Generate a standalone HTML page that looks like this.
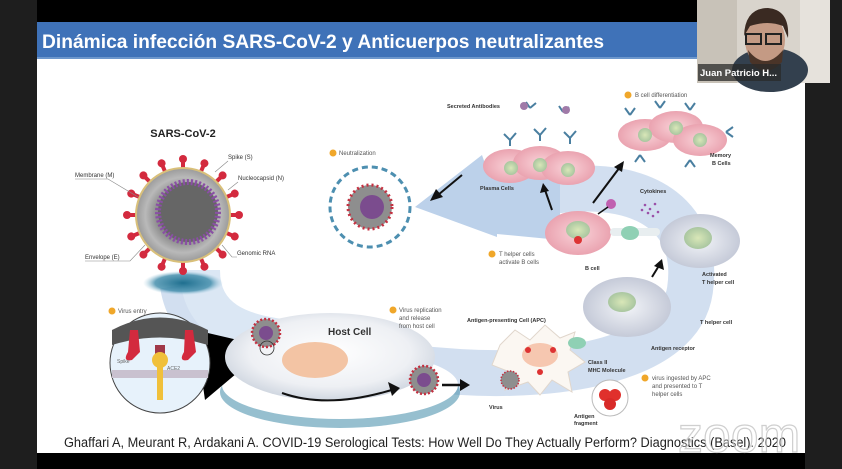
<!DOCTYPE html>
<html><head><meta charset="utf-8"><style>
html,body{margin:0;padding:0;background:#000;}
svg{display:block;font-family:"Liberation Sans",sans-serif;}
</style></head><body>
<svg width="842" height="469" viewBox="0 0 842 469" xmlns="http://www.w3.org/2000/svg">
<defs>
<radialGradient id="vir" cx="50%" cy="50%" r="50%"><stop offset="0" stop-color="#555"/><stop offset=".55" stop-color="#8a8a8a"/><stop offset=".8" stop-color="#b9b9b9"/><stop offset="1" stop-color="#9a9a9a"/></radialGradient>
<radialGradient id="shadow" cx="50%" cy="50%" r="50%"><stop offset="0" stop-color="#1f6f8f"/><stop offset=".7" stop-color="#3b89a8" stop-opacity=".8"/><stop offset="1" stop-color="#9cc7dc" stop-opacity="0"/></radialGradient>
<radialGradient id="host" cx="50%" cy="45%" r="55%"><stop offset="0" stop-color="#fff"/><stop offset=".7" stop-color="#eef0f4"/><stop offset="1" stop-color="#cfd6e0"/></radialGradient>
<radialGradient id="pink" cx="50%" cy="50%" r="50%"><stop offset="0" stop-color="#f9d2d8"/><stop offset="1" stop-color="#eaa3b0"/></radialGradient>
<radialGradient id="gcell" cx="50%" cy="50%" r="50%"><stop offset="0" stop-color="#f2f4f8"/><stop offset="1" stop-color="#c5cad8"/></radialGradient>
<radialGradient id="nuc" cx="50%" cy="50%" r="50%"><stop offset="0" stop-color="#d9e7b8"/><stop offset="1" stop-color="#a9c6a0"/></radialGradient>
</defs>
<rect x="0" y="0" width="842" height="469" fill="#000"/>
<rect x="0" y="0" width="37" height="469" fill="#1e1e1e"/>
<rect x="805" y="0" width="37" height="469" fill="#1e1e1e"/>
<rect x="37" y="22" width="768" height="36" fill="#3f72b8"/>
<rect x="37" y="57" width="768" height="2" fill="#6d97cc"/>
<rect x="37" y="59" width="768" height="394" fill="#fff"/>
<text x="42" y="48" font-size="19.5" font-weight="bold" fill="#fff" textLength="562" lengthAdjust="spacingAndGlyphs">Dinámica infección SARS-CoV-2 y Anticuerpos neutralizantes</text>

<path d="M183 285 C 190 330, 230 350, 300 360 L 460 372 C 560 378, 680 360, 690 290 C 700 220, 650 180, 560 190 L 480 200" fill="none" stroke="#cddcee" stroke-width="46" stroke-linecap="butt" opacity=".9"/>
<polygon points="415,207 482,155 490,178 560,172 560,240 497,234 497,237" fill="#bcd1ea"/>
<path d="M200 270 C 200 320, 240 335, 290 340" fill="none" stroke="#dbe7f4" stroke-width="40"/>

<text x="183" y="137" font-size="11" font-weight="bold" text-anchor="middle" fill="#222">SARS-CoV-2</text>
<ellipse cx="183" cy="283" rx="40" ry="12" fill="url(#shadow)"/>
<g transform="translate(183 215)" fill="#d32a3e">
<g id="sp"><rect x="-2" y="-56" width="4" height="10"/><circle cx="0" cy="-56" r="4"/></g>
<use href="#sp" transform="rotate(22.5)"/><use href="#sp" transform="rotate(45)"/><use href="#sp" transform="rotate(67.5)"/><use href="#sp" transform="rotate(90)"/><use href="#sp" transform="rotate(112.5)"/><use href="#sp" transform="rotate(135)"/><use href="#sp" transform="rotate(157.5)"/><use href="#sp" transform="rotate(180)"/><use href="#sp" transform="rotate(202.5)"/><use href="#sp" transform="rotate(225)"/><use href="#sp" transform="rotate(247.5)"/><use href="#sp" transform="rotate(270)"/><use href="#sp" transform="rotate(292.5)"/><use href="#sp" transform="rotate(315)"/><use href="#sp" transform="rotate(337.5)"/>
</g>
<circle cx="183" cy="215" r="47" fill="url(#vir)" stroke="#d9c07a" stroke-width="2"/>
<circle cx="188" cy="212" r="30" fill="#666" stroke="#8a4fa5" stroke-width="6" stroke-dasharray="2 2"/>
<g font-size="6" fill="#333">
<text x="75" y="177">Membrane (M)</text><text x="228" y="159">Spike (S)</text><text x="238" y="180">Nucleocapsid (N)</text><text x="85" y="259">Envelope (E)</text><text x="237" y="255">Genomic RNA</text>
</g>
<g stroke="#888" stroke-width=".6" fill="none">
<path d="M75 179 H108 L138 197"/><path d="M85 261 H130 L145 245"/><path d="M237 257 H232 L222 245"/><path d="M228 161 L215 172"/><path d="M238 182 L228 190"/>
</g>

<circle cx="333" cy="153" r="3.5" fill="#f0a72a"/>
<text x="339" y="155" font-size="6" fill="#555">Neutralization</text>
<circle cx="370" cy="207" r="40" fill="none" stroke="#4d8fb0" stroke-width="3" stroke-dasharray="6 4"/>
<circle cx="370" cy="207" r="22" fill="#8e8e8e" stroke="#c43040" stroke-width="3" stroke-dasharray="2 3"/>
<circle cx="372" cy="207" r="12" fill="#7b4c8e"/>

<circle cx="112" cy="311" r="3.5" fill="#f0a72a"/>
<text x="118" y="313" font-size="6" fill="#555">Virus entry</text>
<ellipse cx="340" cy="392" rx="120" ry="36" fill="#3f8aa8" opacity=".55"/>
<ellipse cx="340" cy="385" rx="118" ry="34" fill="#fff"/>
<polygon points="195,330 268,347 205,400" fill="#000"/>
<circle cx="160" cy="363" r="50" fill="#e7f2fb" stroke="#444" stroke-width="1"/>
<path d="M112 345 Q160 330 208 345 L208 330 Q160 305 112 330Z" fill="#555"/>
<rect x="112" y="370" width="96" height="8" fill="#c9c1cf"/>
<path d="M155 345 L155 358 Q160 366 165 358 L165 345" fill="#a03848"/>
<path d="M130 330 L128 352 Q122 362 132 360 L140 352 L138 330Z" fill="#d32a3e"/>
<path d="M185 330 L184 352 Q178 362 188 360 L196 352 L193 330Z" fill="#d32a3e"/>
<rect x="157" y="362" width="6" height="38" fill="#f0c03a"/>
<circle cx="160" cy="360" r="8" fill="#f0c03a"/>
<text x="117" y="363" font-size="5" fill="#666">Spike</text>
<text x="167" y="370" font-size="5" fill="#666">ACE2</text>

<ellipse cx="330" cy="357" rx="105" ry="44" fill="url(#host)"/>
<ellipse cx="315" cy="360" rx="33" ry="18" fill="#f3c4a4"/>
<text x="328" y="335" font-size="10" font-weight="bold" fill="#333">Host Cell</text>
<circle cx="266" cy="333" r="14" fill="#8e8e8e" stroke="#c43040" stroke-width="2.5" stroke-dasharray="2 2"/>
<circle cx="266" cy="333" r="7" fill="#7b4c8e"/>
<circle cx="267" cy="348" r="7" fill="none" stroke="#333" stroke-width=".8"/>
<path d="M282 393 Q330 410 398 388" fill="none" stroke="#111" stroke-width="2"/>
<polygon points="400,388 388,382 392,396" fill="#111"/>
<circle cx="424" cy="380" r="14" fill="#8e8e8e" stroke="#c43040" stroke-width="2.5" stroke-dasharray="2 2"/>
<circle cx="424" cy="380" r="7" fill="#7b4c8e"/>
<line x1="442" y1="385" x2="462" y2="385" stroke="#111" stroke-width="2.5"/>
<polygon points="470,385 460,379 460,391" fill="#111"/>
<circle cx="393" cy="310" r="3.5" fill="#f0a72a"/>
<g font-size="6" fill="#555"><text x="399" y="312">Virus replication</text><text x="399" y="320">and release</text><text x="399" y="328">from host cell</text></g>

<path d="M500 345 L515 330 L530 340 L545 325 L560 338 L575 332 L570 350 L585 362 L568 372 L572 392 L552 380 L540 395 L528 382 L505 390 L510 372 L492 365Z" fill="#fbf7f2" stroke="#e0d6cc"/>
<ellipse cx="540" cy="355" rx="18" ry="12" fill="#f6c7b0"/>
<circle cx="528" cy="350" r="3" fill="#d33"/><circle cx="553" cy="350" r="3" fill="#d33"/><circle cx="540" cy="372" r="3" fill="#d33"/>
<circle cx="510" cy="380" r="9" fill="#8e8e8e" stroke="#c43040" stroke-width="1.5" stroke-dasharray="1.5 1.5"/>
<text x="467" y="322" font-size="5.5" font-weight="bold" fill="#333">Antigen-presenting Cell (APC)</text>
<text x="489" y="409" font-size="5.5" font-weight="bold" fill="#333">Virus</text>
<circle cx="610" cy="398" r="18" fill="#fff" stroke="#bbb"/>
<circle cx="605" cy="395" r="6" fill="#e0302c"/><circle cx="615" cy="395" r="6" fill="#e0302c"/><circle cx="610" cy="404" r="6" fill="#d82a28"/>
<g font-size="5.5" font-weight="bold" fill="#333"><text x="574" y="418">Antigen</text><text x="574" y="425">fragment</text>
<text x="588" y="364">Class II</text><text x="588" y="372">MHC Molecule</text><text x="651" y="350">Antigen receptor</text><text x="700" y="324">T helper cell</text></g>
<ellipse cx="577" cy="343" rx="9" ry="6" fill="#8fd0b4"/>
<circle cx="645" cy="378" r="3.5" fill="#f0a72a"/>
<g font-size="6" fill="#555"><text x="652" y="380">virus ingested by APC</text><text x="652" y="388">and presented to T</text><text x="652" y="396">helper cells</text></g>

<ellipse cx="627" cy="307" rx="44" ry="30" fill="url(#gcell)"/>
<ellipse cx="622" cy="302" rx="14" ry="10" fill="url(#nuc)"/>
<line x1="652" y1="277" x2="660" y2="264" stroke="#111" stroke-width="2"/>
<polygon points="662,259 654,266 664,270" fill="#111"/>

<ellipse cx="700" cy="241" rx="40" ry="27" fill="url(#gcell)"/>
<ellipse cx="698" cy="238" rx="14" ry="11" fill="url(#nuc)"/>
<g font-size="5.5" font-weight="bold" fill="#333"><text x="702" y="276">Activated</text><text x="702" y="284">T helper cell</text></g>

<ellipse cx="578" cy="233" rx="33" ry="22" fill="url(#pink)"/>
<ellipse cx="578" cy="230" rx="12" ry="9" fill="url(#nuc)"/>
<circle cx="578" cy="240" r="4" fill="#d33"/>
<rect x="610" y="228" width="50" height="8" rx="4" fill="#e8eef0"/>
<ellipse cx="630" cy="233" rx="9" ry="7" fill="#8fd0b4"/>
<text x="585" y="270" font-size="5.5" font-weight="bold" fill="#333">B cell</text>
<circle cx="492" cy="254" r="3.5" fill="#f0a72a"/>
<g font-size="6" fill="#555"><text x="499" y="256">T helper cells</text><text x="499" y="264">activate B cells</text></g>
<circle cx="611" cy="204" r="5" fill="#c060b0"/>
<g fill="#9a50a8"><circle cx="645" cy="205" r="1.3"/><circle cx="650" cy="209" r="1.3"/><circle cx="655" cy="204" r="1.3"/><circle cx="648" cy="213" r="1.3"/><circle cx="658" cy="212" r="1.3"/><circle cx="642" cy="210" r="1.3"/><circle cx="653" cy="216" r="1.3"/></g>
<text x="640" y="193" font-size="5.5" font-weight="bold" fill="#333">Cytokines</text>
<line x1="608" y1="207" x2="598" y2="214" stroke="#111" stroke-width="1.5"/>
<line x1="593" y1="203" x2="620" y2="167" stroke="#111" stroke-width="2"/>
<polygon points="624,161 614,167 622,172" fill="#111"/>
<line x1="552" y1="210" x2="545" y2="190" stroke="#111" stroke-width="2"/>
<polygon points="543,183 540,193 549,191" fill="#111"/>
<line x1="462" y1="175" x2="438" y2="195" stroke="#111" stroke-width="2"/>
<polygon points="430,201 436,189 443,197" fill="#111"/>

<ellipse cx="510" cy="166" rx="27" ry="17" fill="url(#pink)"/>
<ellipse cx="540" cy="163" rx="27" ry="17" fill="url(#pink)"/>
<ellipse cx="568" cy="168" rx="27" ry="17" fill="url(#pink)"/>
<g fill="url(#nuc)"><circle cx="511" cy="168" r="7"/><circle cx="540" cy="165" r="7"/><circle cx="568" cy="170" r="7"/></g>
<text x="480" y="190" font-size="5.5" font-weight="bold" fill="#333">Plasma Cells</text>
<text x="447" y="108" font-size="5.5" font-weight="bold" fill="#333">Secreted Antibodies</text>
<g stroke="#4a7fa0" stroke-width="2" fill="none">
<path d="M510 140 l6 -7 m-6 7 l-6 -6 m6 6 v6"/><path d="M540 135 l6 -7 m-6 7 l-6 -6 m6 6 v6"/><path d="M570 138 l6 -7 m-6 7 l-6 -6 m6 6 v6"/><path d="M530 108 l6 -5 m-6 5 l-4 -6"/><path d="M563 112 l6 -5 m-6 5 l-4 -6"/>
</g>
<circle cx="524" cy="106" r="4" fill="#a07aa8"/><circle cx="566" cy="110" r="4" fill="#a07aa8"/>

<circle cx="628" cy="95" r="3.5" fill="#f0a72a"/>
<text x="635" y="97" font-size="6" fill="#555">B cell differentiation</text>
<ellipse cx="645" cy="135" rx="27" ry="16" fill="url(#pink)"/>
<ellipse cx="676" cy="127" rx="27" ry="16" fill="url(#pink)"/>
<ellipse cx="700" cy="140" rx="27" ry="16" fill="url(#pink)"/>
<g fill="url(#nuc)"><circle cx="645" cy="135" r="7"/><circle cx="676" cy="128" r="7"/><circle cx="700" cy="140" r="7"/></g>
<g stroke="#4a7fa0" stroke-width="2" fill="none">
<path d="M630 115 l-5 -7 m5 7 l5 -7"/><path d="M660 108 l-5 -7 m5 7 l5 -7"/><path d="M690 110 l-5 -7 m5 7 l5 -7"/><path d="M726 132 l7 -5 m-7 5 l7 5"/><path d="M640 155 l-5 7 m5 -7 l5 7"/><path d="M690 160 l-5 7 m5 -7 l5 7"/>
</g>
<g font-size="5.5" font-weight="bold" fill="#333"><text x="710" y="157">Memory</text><text x="712" y="165">B Cells</text></g>

<text x="64" y="447" font-size="13.5" fill="#222" textLength="722" lengthAdjust="spacingAndGlyphs">Ghaffari A, Meurant R, Ardakani A. COVID-19 Serological Tests: How Well Do They Actually Perform? Diagnostics (Basel). 2020</text>
<text x="678" y="452" font-size="50" fill="#fff" fill-opacity=".3" stroke="#bbb" stroke-opacity=".7" stroke-width="1.2">zoom</text>

<rect x="697" y="0" width="133" height="83" fill="#d9d4cc"/>
<rect x="697" y="0" width="40" height="83" fill="#c8c2b8"/>
<rect x="800" y="0" width="30" height="83" fill="#e6e2dc"/>
<ellipse cx="770" cy="70" rx="38" ry="22" fill="#33404e"/>
<ellipse cx="765" cy="40" rx="20" ry="26" fill="#c49a84"/>
<path d="M744 36 Q745 8 768 8 Q790 10 788 38 L783 26 Q768 20 750 26Z" fill="#3a2a22"/>
<path d="M748 50 Q765 72 783 50 L782 62 Q765 80 750 62Z" fill="#4a3428"/>
<rect x="746" y="34" width="15" height="10" fill="none" stroke="#222" stroke-width="2"/>
<rect x="766" y="34" width="15" height="10" fill="none" stroke="#222" stroke-width="2"/>
<rect x="698" y="64" width="83" height="17" fill="#2a2a2a" fill-opacity=".75"/>
<text x="700" y="76" font-size="9.5" font-weight="bold" fill="#fff">Juan Patricio H...</text>
</svg>
</body></html>
